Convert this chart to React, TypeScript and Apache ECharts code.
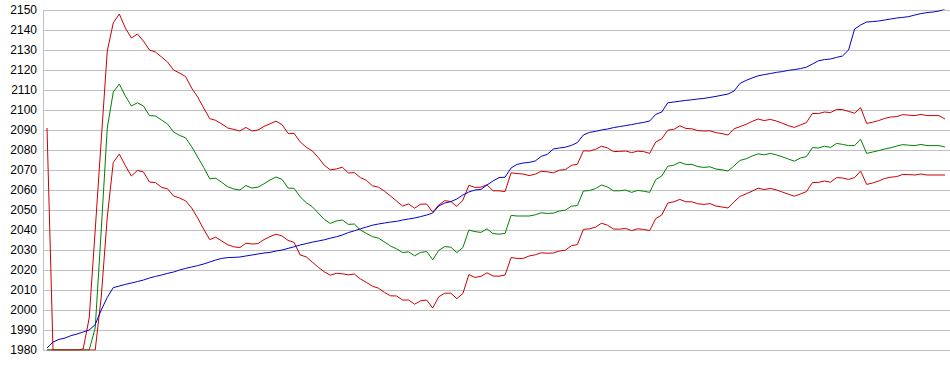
import React, { useEffect, useRef } from "react";
import * as echarts from "echarts";

const yMin = 1980;
const yMax = 2150;
const yStep = 10;

const blue = [
  1981, 1984, 1985.3, 1986, 1987.2, 1988, 1989, 1990, 1992.7, 2000,
  2006.3, 2011.2, 2012, 2012.8, 2013.5, 2014.2, 2015, 2016, 2016.8, 2017.5,
  2018.3, 2019, 2020, 2020.8, 2021.5, 2022.2, 2023, 2024, 2025, 2025.8,
  2026.2, 2026.3, 2026.5, 2027, 2027.5, 2028, 2028.5, 2028.8, 2029.5, 2030,
  2030.8, 2031.6, 2032.5, 2033.2, 2033.9, 2034.5, 2035.1, 2035.9, 2036.6, 2037.5,
  2038.7, 2039.6, 2040.6, 2041.5, 2042.4, 2043, 2043.5, 2044, 2044.3, 2045,
  2045.5, 2046, 2046.7, 2047.5, 2048.5, 2052, 2053.5, 2054.2, 2055.5, 2057.5,
  2059, 2060, 2060.3, 2062.5, 2064.5, 2066.2, 2066.4, 2071, 2072.8, 2073.5,
  2073.8, 2074.5, 2076.8, 2077.8, 2080.5, 2081, 2081.4, 2082.3, 2083.7, 2087.5,
  2088.8, 2089.3, 2090, 2090.5, 2091.2, 2091.7, 2092.2, 2092.7, 2093.3, 2093.8,
  2094.5, 2097.8, 2099, 2103.6, 2104, 2104.4, 2104.8, 2105.1, 2105.5, 2105.8,
  2106.3, 2106.8, 2107.4, 2108, 2109.5, 2113.3, 2114.8, 2116, 2117.1, 2117.7,
  2118.2, 2118.8, 2119.2, 2119.8, 2120.2, 2120.7, 2121.4, 2123, 2124.6, 2125.2,
  2125.5, 2126.3, 2127, 2130, 2140.5, 2142.5, 2144, 2144.2, 2144.5, 2145,
  2145.5, 2146, 2146.3, 2146.7, 2147.5, 2148.2, 2148.7, 2149, 2149.5, 2150.5,
];

const redUpper = [
  1980, 1980, 1980, 1980, 1980, 1980, 1980.5, 1996, 2040, 2085,
  2129.5, 2143.6, 2148, 2141, 2136, 2138, 2134.5, 2130, 2129, 2126.5,
  2124, 2120, 2118.5, 2116.7, 2111, 2106.5, 2101, 2095.7, 2094.8, 2093,
  2091, 2090.3, 2089.5, 2091.3, 2089.5, 2090, 2091.8, 2093.1, 2094.4, 2092.7,
  2088.3, 2088.3, 2084.1, 2081.4, 2079.6, 2076.3, 2072.4, 2070.1, 2070.5, 2071.4,
  2068.5, 2068.7, 2066.2, 2064.8, 2062.1, 2061.4, 2059.4, 2057, 2054.5, 2052,
  2053, 2050.9, 2052.9, 2053, 2048.9, 2052.5, 2054.7, 2054.2, 2051.8, 2054.9,
  2062.4, 2061.3, 2061.4, 2062.6, 2059.6, 2059.6, 2059.2, 2068.6, 2068.2, 2068,
  2067.2, 2067.9, 2069.3, 2069.1, 2068.6, 2069.9, 2070.2, 2072.3, 2072.9, 2079.6,
  2079.5, 2080.3, 2081.9, 2081, 2079.2, 2079.3, 2079.5, 2078.7, 2079.4, 2079.2,
  2078.3, 2084, 2085.6, 2089.9, 2090.3, 2092.1, 2090.8, 2090.6, 2089.7, 2089.5,
  2089.6, 2088.7, 2088.2, 2087.5, 2090.6, 2091.7, 2092.8, 2094.3, 2095.5, 2094.7,
  2095.3, 2094.5, 2093.4, 2092.2, 2091.3, 2092.5, 2093.7, 2098.3, 2098.2, 2099,
  2098.7, 2100.3, 2100.2, 2099.3, 2098.4, 2101.2, 2093.3, 2093.9, 2094.7, 2095.8,
  2096.5, 2096.7, 2097.7, 2097.4, 2097.2, 2097.8, 2097.2, 2097.2, 2097.2, 2095.5,
];

const green = [
  1980, 1980, 1980, 1980, 1980, 1980, 1980, 1980, 1991, 2040,
  2091, 2109, 2113, 2107, 2102, 2103.6, 2102, 2097.2, 2097, 2095,
  2093, 2089, 2087.3, 2086.1, 2081.6, 2076.5, 2071.3, 2065.6, 2065.9, 2063.8,
  2061.6, 2060.5, 2060, 2062.2, 2061, 2061.4, 2063.1, 2065, 2066.5, 2065.3,
  2061, 2060.8, 2056.6, 2053.7, 2051.7, 2048.5, 2045.3, 2043.3, 2044.5, 2045,
  2042.8, 2043, 2040, 2038.3, 2036.7, 2035.9, 2034, 2032, 2030.6, 2028.7,
  2029.1, 2027.1, 2028.8, 2029.2, 2025.1, 2029.8, 2031.7, 2031.4, 2028.7, 2031.2,
  2040, 2039.2, 2038.8, 2040.6, 2038.2, 2037.9, 2038.3, 2047.3, 2047, 2047,
  2047, 2047.6, 2048.6, 2048.3, 2048.4, 2049.5, 2049.9, 2051.9, 2052.2, 2059.5,
  2059.7, 2060.7, 2062.5, 2061.5, 2059.6, 2059.6, 2060, 2058.8, 2059.8, 2059.4,
  2058.8, 2065.2, 2067, 2071.9, 2072.4, 2073.9, 2072.8, 2072.8, 2071.7, 2071.3,
  2071.6, 2070.5, 2070.1, 2069.5, 2072.1, 2074.8, 2075.6, 2077, 2078.1, 2077.6,
  2078.3, 2077.6, 2076.6, 2075.5, 2074.4, 2076, 2076.7, 2081.2, 2081, 2081.9,
  2081.3, 2083.3, 2082.8, 2082.2, 2082.2, 2085.4, 2078.3, 2079, 2079.7, 2080.5,
  2081.1, 2082, 2082.7, 2082.4, 2082.2, 2082.8, 2082.2, 2082.2, 2082.2, 2081.5,
];

const redLower = [
  2091, 1980, 1980, 1980, 1980, 1980, 1980, 1980, 1980, 2006.5,
  2046.5, 2073.8, 2078, 2072.2, 2067, 2069.8, 2069, 2064, 2063.7, 2061.3,
  2060.6, 2057, 2056, 2054.6, 2051, 2046, 2040.4, 2035.2, 2036.4, 2034.5,
  2032.6, 2031.6, 2031.2, 2033.4, 2033, 2033.2, 2035.2, 2036.7, 2037.9, 2037,
  2034.8, 2033.8, 2027.5, 2026.6, 2024, 2021.4, 2019.1, 2017.4, 2018.3, 2018.1,
  2017.6, 2018, 2015.5, 2013.8, 2011.9, 2010.9, 2008.8, 2007.1, 2007, 2005,
  2005, 2002.9, 2004.6, 2005, 2001, 2006.6, 2008.4, 2008.4, 2005.7, 2008.2,
  2017.7, 2016.3, 2016.8, 2018.6, 2017, 2016.9, 2017.5, 2026.2, 2025.8, 2025.8,
  2027, 2027.6, 2028.6, 2028.4, 2028.5, 2029.5, 2029.9, 2032.1, 2032.7, 2040.3,
  2040.6, 2041.4, 2043.4, 2042.4, 2040.5, 2040.4, 2040.8, 2039.7, 2040.6, 2040.3,
  2039.7, 2045.7, 2047.5, 2053.5, 2054.1, 2055.3, 2054.1, 2054.1, 2053.1, 2052.8,
  2053.2, 2052, 2051.5, 2051, 2054.1, 2056.8, 2058.1, 2059.4, 2060.9, 2060.2,
  2060.8, 2060.1, 2059, 2057.9, 2056.9, 2058, 2059.2, 2063.7, 2063.8, 2064.5,
  2063.9, 2066.2, 2066, 2065.3, 2066.2, 2069.5, 2062.8, 2063.5, 2064.5, 2065.8,
  2066.4, 2066.7, 2067.8, 2067.7, 2067.5, 2068, 2067.5, 2067.5, 2067.5, 2067.5,
];

const RED = "#cc0000";
const GREEN = "#008000";
const BLUE = "#0000cc";
const GRID = "#c0c0c0";

export default function App() {
  const ref = useRef<HTMLDivElement>(null);
  useEffect(() => {
    document.body.style.margin = "0";
    const chart = echarts.init(ref.current!, null, { renderer: "svg" });
    const pairs = (arr: number[]) => arr.map((v, i) => [i, v]);
    const mk = (name: string, arr: number[], color: string) => ({
      name,
      type: "line",
      data: pairs(arr),
      symbol: "none",
      showSymbol: false,
      lineStyle: { color, width: 1 },
      itemStyle: { color },
    });
    chart.setOption({
      animation: false,
      backgroundColor: "#ffffff",
      grid: { left: 43, right: 0, top: 10, bottom: 25 },
      xAxis: {
        type: "value",
        min: -0.664,
        max: 149.83,
        show: false,
      },
      yAxis: {
        type: "value",
        min: yMin,
        max: yMax,
        interval: yStep,
        axisLine: { show: true, onZero: false, lineStyle: { color: GRID, width: 1 } },
        axisTick: { show: false },
        axisLabel: {
          color: "#000000",
          fontFamily: "Liberation Sans, Arial, sans-serif",
          fontSize: 12,
          margin: 6,
          formatter: (v: number) => String(v),
        },
        splitLine: { show: true, lineStyle: { color: GRID, width: 1 } },
      },
      series: [
        mk("red1", redUpper, RED),
        mk("green", green, GREEN),
        mk("red2", redLower, RED),
        mk("blue", blue, BLUE),
      ],
    });
    return () => chart.dispose();
  }, []);
  return <div ref={ref} style={{ width: 950, height: 375 }} />;
}
